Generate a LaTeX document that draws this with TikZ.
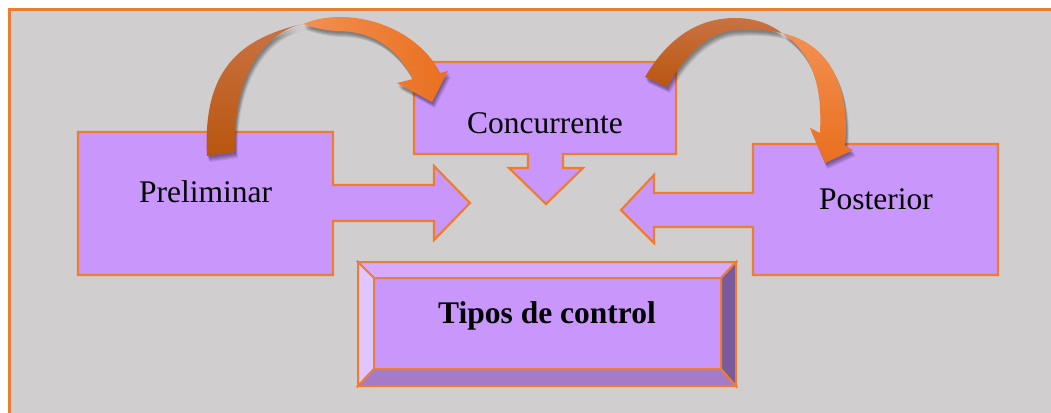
\documentclass[tikz,border=0pt]{standalone}
\usepackage{fontspec}
\setmainfont{Liberation Serif}
\definecolor{bggray}{HTML}{D0CECF}
\definecolor{frameor}{HTML}{ED7D31}
\definecolor{boxfill}{HTML}{C996FC}
\definecolor{bevtop}{HTML}{D8AAFF}
\definecolor{bevleft}{HTML}{E0C5FF}
\definecolor{bevbot}{HTML}{A47AC9}
\definecolor{bevright}{HTML}{7A5A9A}
\definecolor{backdark}{HTML}{B9560F}
\definecolor{backlight}{HTML}{C97242}
\definecolor{frontlight}{HTML}{F29052}
\definecolor{frontdark}{HTML}{E96F1E}
% left ribbon: back face (tail side) and front face (head side)
\def\leftback{(207,156) .. controls (203,80) and (230,40) .. (303,24)
  .. controls (265,32) and (232,75) .. (235,152) -- cycle}
\def\leftfront{(303,24) .. controls (315,19) and (327,17) .. (340,17)
  .. controls (385,17) and (425,42) .. (440,73) -- (448,71) -- (432,102) -- (397,83) -- (413,79)
  .. controls (395,45) and (370,31) .. (337,31)
  .. controls (322,30) and (312,27) .. (303,24) -- cycle}
% right ribbon
\def\rightback{(645,77) .. controls (668,38) and (698,18) .. (735,18)
  .. controls (755,18) and (770,24) .. (782,33)
  .. controls (768,30) and (752,29) .. (738,30)
  .. controls (710,30) and (685,55) .. (667,87) -- cycle}
\def\rightfront{(782,33) .. controls (835,45) and (850,95) .. (845,146) -- (853,150) -- (825,163) -- (810,128) -- (820,133)
  .. controls (822,90) and (815,55) .. (782,33) -- cycle}
\begin{document}
\begin{tikzpicture}[x=1pt,y=-1pt,
  blockarrow/.style={fill=boxfill, draw=frameor, line width=2.2pt, line join=miter},
  bevel/.style={draw=frameor, line width=2pt, line join=miter},
  lbl/.style={anchor=base, font=\fontsize{31.5}{36}\selectfont, inner sep=0pt},
  backface/.style={bottom color=backdark, top color=backlight, draw=none},
  frontface/.style={draw=none},
  ribshadow/.style={fill=black, fill opacity=0.09, draw=none}]
\useasboundingbox (0,0) rectangle (1051,412);
\fill[white] (0,0) rectangle (1051,412);
\draw[fill=bggray, draw=frameor, line width=2.5pt] (9.5,9.5) rectangle (1075,440);
% Preliminar
\path[blockarrow] (78,132) -- (333,132) -- (333,185) -- (434,185) -- (434,166) -- (470,203) -- (434,240) -- (434,221) -- (333,221) -- (333,275) -- (78,275) -- cycle;
% Concurrente
\path[blockarrow] (414,62) -- (676,62) -- (676,154) -- (563,154) -- (563,168) -- (583,168) -- (546,204) -- (509,168) -- (528,168) -- (528,154) -- (414,154) -- cycle;
% Posterior
\path[blockarrow] (998,144) -- (998,275) -- (753,275) -- (753,227) -- (654,227) -- (654,243) -- (621,210) -- (654,175) -- (654,193) -- (753,193) -- (753,144) -- cycle;
% Tipos de control bevel box
\fill[boxfill] (374,278) rectangle (721,369);
\path[bevel, fill=bevtop] (358,262) -- (736,262) -- (721,278) -- (374,278) -- cycle;
\path[bevel, fill=bevleft] (358,262) -- (374,278) -- (374,369) -- (358,386) -- cycle;
\path[bevel, fill=bevbot] (358,386) -- (736,386) -- (721,369) -- (374,369) -- cycle;
\path[bevel, fill=bevright] (736,262) -- (736,386) -- (721,369) -- (721,278) -- cycle;
\draw[bevel] (374,278) rectangle (721,369);
\draw[bevel] (358,262) rectangle (736,386);
% labels
\node[lbl] (prel) at (205.5,202) {Preliminar};
\node[lbl] (conc) at (545,133) {Concurrente};
\node[lbl] (post) at (876,209) {Posterior};
\node[lbl, font=\fontsize{31.5}{36}\selectfont\bfseries] (tipos) at (547,323) {Tipos de control};
% shadows of curved arrows
\foreach \dx/\dy in {1/2,2/4,3/6,2/5,1/3} {
  \path[ribshadow, shift={(\dx,\dy)}] \leftback;
  \path[ribshadow, shift={(\dx,\dy)}] \leftfront;
  \path[ribshadow, shift={(\dx,\dy)}] \rightback;
  \path[ribshadow, shift={(\dx,\dy)}] \rightfront;
}
% curved arrows
\path[backface] \leftback;
\path[frontface, left color=frontlight, right color=frontdark] \leftfront;
\path[backface] \rightback;
\path[frontface, top color=frontlight, bottom color=frontdark] \rightfront;
\end{tikzpicture}
\end{document}
